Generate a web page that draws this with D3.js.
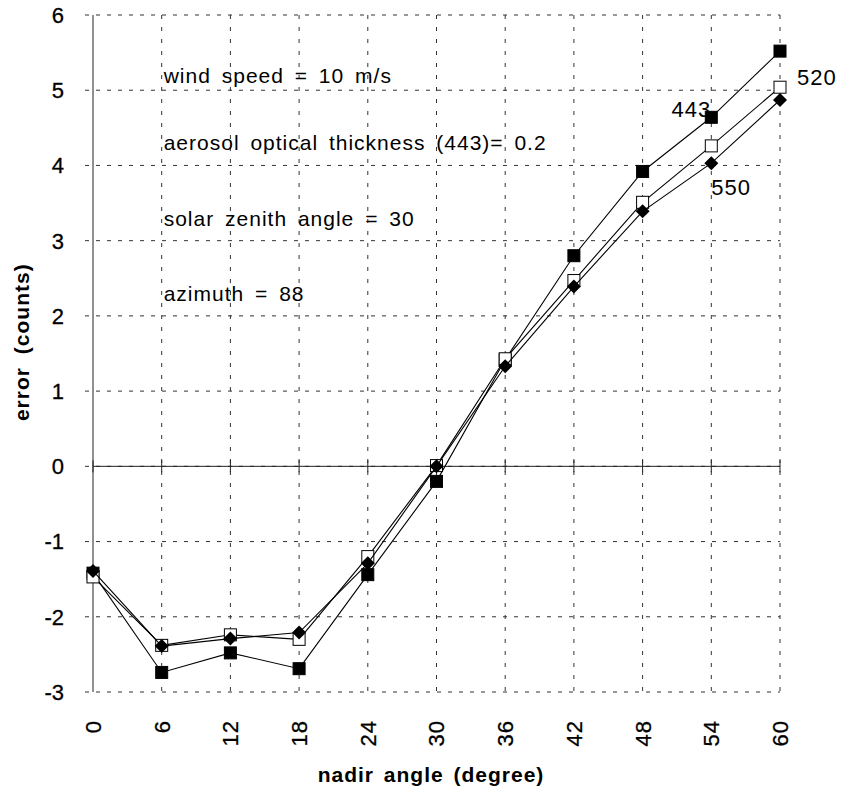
<!DOCTYPE html>
<html>
<head>
<meta charset="utf-8">
<script src="https://cdn.jsdelivr.net/npm/d3@7"></script>
<style>
    body { margin: 0; background: #fff; }
    svg { display: block; font-family: "Liberation Sans", Arial, Helvetica, sans-serif; }
</style>
</head>
<body>
<div id="chart"></div>
<script>
// nadir angle (degree)
const angles = [0, 6, 12, 18, 24, 30, 36, 42, 48, 54, 60];

// error (counts) per wavelength
const err443 = [-1.42, -2.74, -2.48, -2.69, -1.44, -0.20, 1.42, 2.80, 3.92, 4.64, 5.52];
const err520 = [-1.47, -2.38, -2.24, -2.30, -1.20, 0.01, 1.43, 2.47, 3.51, 4.26, 5.04];
const err550 = [-1.39, -2.39, -2.29, -2.21, -1.29, 0.00, 1.33, 2.39, 3.39, 4.03, 4.87];

const yTicks = [-3, -2, -1, 0, 1, 2, 3, 4, 5, 6];

const notes = [
    "wind speed = 10 m/s",
    "aerosol optical thickness (443)= 0.2",
    "solar zenith angle = 30",
    "azimuth = 88"
];
const noteLevels = [5.2, 4.3, 3.3, 2.3];

const series = [
    { name: "443", values: err443, marker: "filled", labelAt: 54, dx: 0, dy: 0, anchor: "end" },
    { name: "520", values: err520, marker: "open", labelAt: 60, dx: 17, dy: -2, anchor: "start" },
    { name: "550", values: err550, marker: "diamond", labelAt: 54, dx: 0, dy: 32, anchor: "start" }
];

const width = 843, height = 791;
const margin = { top: 15, right: 63, bottom: 99, left: 93 };

const svg = d3.select("#chart").append("svg")
    .attr("width", width)
    .attr("height", height);

const x = d3.scaleLinear().domain([0, 60]).range([margin.left, width - margin.right]);
const y = d3.scaleLinear().domain([-3, 6]).range([height - margin.bottom, margin.top]);

// dashed grid
svg.append("g")
    .selectAll("line")
    .data(yTicks)
    .join("line")
    .attr("x1", margin.left - 8)
    .attr("x2", x(60))
    .attr("y1", d => y(d))
    .attr("y2", d => y(d))
    .attr("stroke", "#333")
    .attr("stroke-width", 1)
    .attr("stroke-dasharray", "4,7");

svg.append("g")
    .selectAll("line")
    .data(angles.filter(d => d > 0))
    .join("line")
    .attr("x1", d => x(d))
    .attr("x2", d => x(d))
    .attr("y1", y(6))
    .attr("y2", y(-3))
    .attr("stroke", "#333")
    .attr("stroke-width", 1)
    .attr("stroke-dasharray", "4,8");

// left axis + zero line
svg.append("line")
    .attr("x1", x(0)).attr("x2", x(0))
    .attr("y1", y(6)).attr("y2", y(-3))
    .attr("stroke", "#222");

svg.append("line")
    .attr("x1", x(0)).attr("x2", x(60))
    .attr("y1", y(0)).attr("y2", y(0))
    .attr("stroke", "#222");

svg.append("g")
    .selectAll("line")
    .data(angles)
    .join("line")
    .attr("x1", d => x(d)).attr("x2", d => x(d))
    .attr("y1", y(0) - 6).attr("y2", y(0) + 6)
    .attr("stroke", "#222");

// tick labels
svg.append("g")
    .selectAll("text")
    .data(yTicks)
    .join("text")
    .attr("x", margin.left - 29)
    .attr("y", d => y(d))
    .attr("dy", "0.36em")
    .attr("text-anchor", "end")
    .style("font-size", "22px")
    .style("stroke", "#000")
    .style("stroke-width", "0.3px")
    .text(d => d);

svg.append("g")
    .selectAll("text")
    .data(angles)
    .join("text")
    .attr("transform", d => `translate(${x(d)},${y(-3) + 28}) rotate(-90)`)
    .attr("dy", "0.36em")
    .attr("text-anchor", "end")
    .style("font-size", "22px")
    .style("letter-spacing", "1px")
    .style("stroke", "#000")
    .style("stroke-width", "0.3px")
    .text(d => d);

// axis titles
svg.append("text")
    .attr("x", 431)
    .attr("y", 782)
    .attr("text-anchor", "middle")
    .style("font-size", "21px")
    .style("font-weight", "bold")
    .style("letter-spacing", "1px")
    .style("word-spacing", "3px")
    .text("nadir angle (degree)");

svg.append("text")
    .attr("transform", `translate(29,${y(1.65)}) rotate(-90)`)
    .attr("text-anchor", "middle")
    .style("font-size", "21px")
    .style("font-weight", "bold")
    .style("letter-spacing", "1px")
    .style("word-spacing", "6px")
    .text("error (counts)");

// condition notes
svg.append("g")
    .selectAll("text")
    .data(notes)
    .join("text")
    .attr("x", x(6) + 2)
    .attr("y", (d, i) => y(noteLevels[i]))
    .attr("dy", "0.36em")
    .style("font-size", "21px")
    .style("letter-spacing", "1px")
    .style("word-spacing", "4px")
    .text(d => d);

const line = d3.line()
    .x((d, i) => x(angles[i]))
    .y(d => y(d));

const sq = 12;

series.forEach(s => {
    const g = svg.append("g");

    g.append("path")
        .datum(s.values)
        .attr("fill", "none")
        .attr("stroke", "#000")
        .attr("stroke-width", 1.1)
        .attr("d", line);

    if (s.marker === "diamond") {
        g.selectAll("path.pt")
            .data(s.values)
            .join("path")
            .attr("class", "pt")
            .attr("transform", (d, i) => `translate(${x(angles[i])},${y(d)})`)
            .attr("d", d3.symbol(d3.symbolDiamond2, 125)())
            .attr("fill", "#000");
    } else {
        g.selectAll("rect")
            .data(s.values)
            .join("rect")
            .attr("x", (d, i) => x(angles[i]) - sq / 2)
            .attr("y", d => y(d) - sq / 2)
            .attr("width", sq)
            .attr("height", sq)
            .attr("fill", s.marker === "filled" ? "#000" : "#fff")
            .attr("stroke", "#000")
            .attr("stroke-width", 1);
    }

    const idx = angles.indexOf(s.labelAt);
    g.append("text")
        .attr("x", x(s.labelAt) + s.dx)
        .attr("y", y(s.values[idx]) + s.dy)
        .attr("text-anchor", s.anchor)
        .style("font-size", "22px")
        .style("letter-spacing", "1px")
        .text(s.name);
});
</script>
</body>
</html>
